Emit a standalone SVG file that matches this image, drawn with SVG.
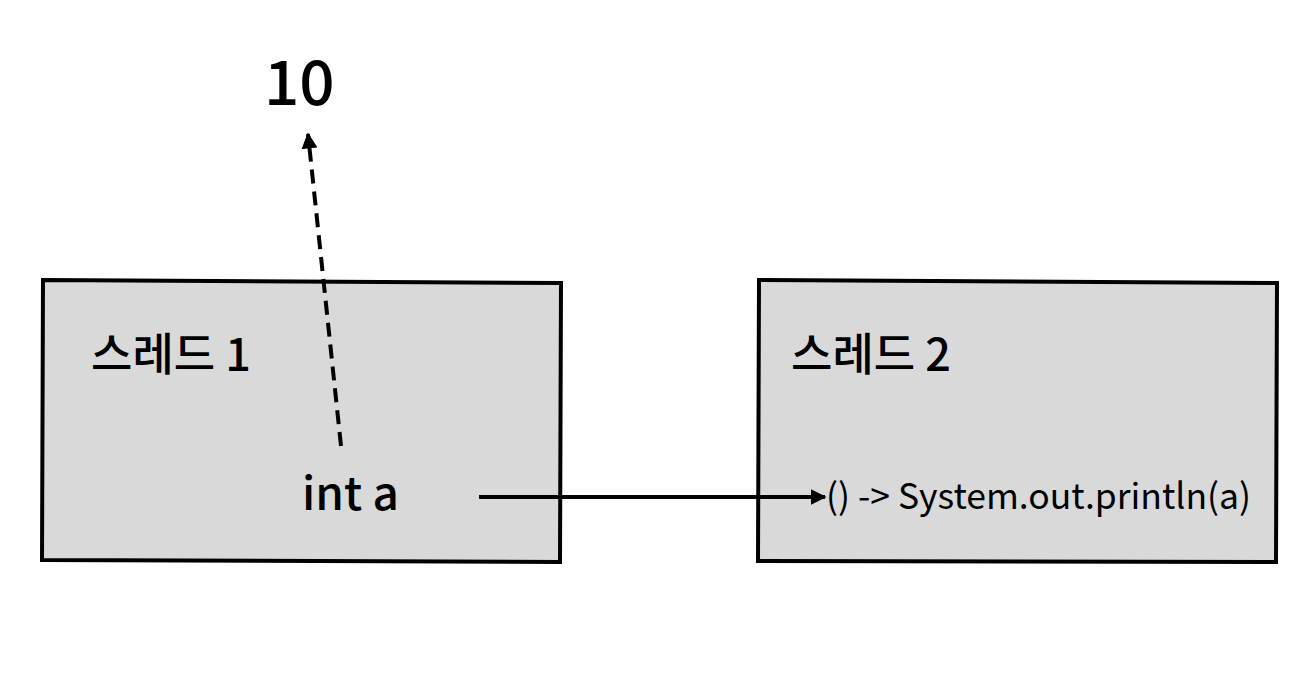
<svg xmlns="http://www.w3.org/2000/svg" width="1300" height="682" viewBox="0 0 1300 682">
<style>
.box{fill:#d9d9d9;stroke:#000;stroke-width:4;stroke-linejoin:miter}
.t{font-family:"Noto Sans CJK KR","Noto Sans",sans-serif;fill:#000;font-weight:500}
.code{font-weight:400}
.c{stroke:#000;stroke-width:4;fill:none}
</style>
<defs>
<marker id="ah" viewBox="0 0 10 10" refX="9" refY="5" markerWidth="4" markerHeight="4" orient="auto" markerUnits="strokeWidth">
<path d="M0,0 L10,5 L0,10 z" fill="#000"/>
</marker>
</defs>
<rect width="1300" height="682" fill="#fff"/>
<g id="thread1">
<polygon class="box" points="43,280 561,283 560,562 42,560"/>
<text class="t" x="91" y="371" font-size="45">스레드 1</text>
<text class="t" x="302" y="510" font-size="46">int a</text>
</g>
<g id="thread2">
<polygon class="box" points="759,280 1277,283 1276,562 758,561"/>
<text class="t" x="791" y="371" font-size="45">스레드 2</text>
<text class="t code" x="826" y="509" font-size="35.5">() -&gt; System.out.println(a)</text>
</g>
<g id="value">
<text class="t" x="264" y="105" font-size="62">10</text>
</g>
<g id="connectors">
<line class="c" x1="341" y1="446" x2="308" y2="134" stroke-dasharray="14,8" marker-end="url(#ah)"/>
<line class="c" x1="479" y1="497" x2="825" y2="497" marker-end="url(#ah)"/>
</g>
</svg>
